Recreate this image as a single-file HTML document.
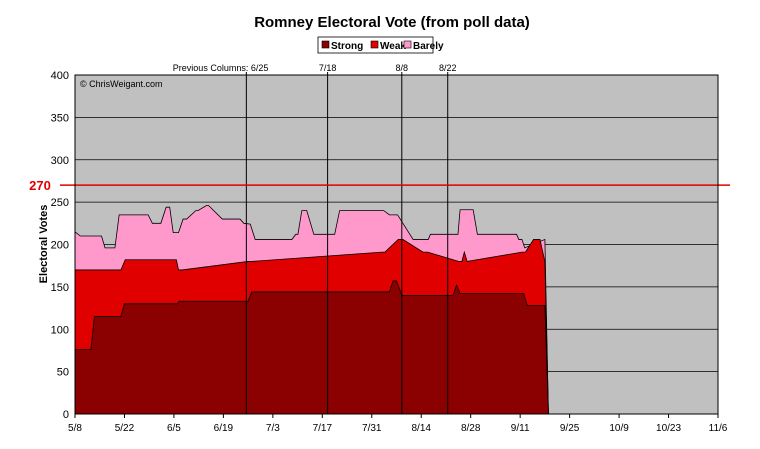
<!DOCTYPE html>
<html><head><meta charset="utf-8"><style>
body{margin:0;background:#fff;}
svg{display:block;font-family:"Liberation Sans",Arial,sans-serif;}
</style></head><body>
<svg id="chart" width="760" height="449">
<text x="392" y="27" text-anchor="middle" font-size="15" font-weight="bold">Romney Electoral Vote (from poll data)</text>
<g>
<rect x="318" y="37" width="115" height="16" fill="#fff" stroke="#000" stroke-width="0.8"/>
<g><rect x="322" y="41" width="7" height="7" fill="#8b0000" stroke="#000" stroke-width="0.6"/><text x="331" y="49" font-size="10" font-weight="bold">Strong</text></g>
<g><rect x="371" y="41" width="7" height="7" fill="#e00000" stroke="#000" stroke-width="0.6"/><text x="380" y="49" font-size="10" font-weight="bold">Weak</text></g>
<g><rect x="404" y="41" width="7" height="7" fill="#ff99cc" stroke="#000" stroke-width="0.6"/><text x="413" y="49" font-size="10" font-weight="bold">Barely</text></g>
</g>
<rect x="75" y="75" width="643" height="339" fill="#c0c0c0"/>
<g id="grid"></g>
<g id="series"></g>
<g id="vlines"></g>
<rect x="75" y="75" width="643" height="339" fill="none" stroke="#000" stroke-width="1"/>
<g id="axes"></g>
<text x="80" y="87" font-size="9">© ChrisWeigant.com</text>
<text transform="translate(47,244) rotate(-90)" text-anchor="middle" font-size="11" font-weight="bold">Electoral Votes</text>
</svg>
<script>
const yTicks=[0,50,100,150,200,250,300,350,400];
const xTickLabels=["5/8","5/22","6/5","6/19","7/3","7/17","7/31","8/14","8/28","9/11","9/25","10/9","10/23","11/6"];
const strongDays=[0,4.5,5.5,13,14,29,29.5,49,50,89,90,91,92.5,107,108,109,127,128,133,134];
const strongVals=[76,76,115,115,130,130,133,133,144,144,157,157,140,140,152,142,142,128,128,0];
const weakDays=[0,13,14.2,28.7,29.3,30.3,49,50,87,87.7,91.5,92.8,98.5,99.8,108.7,109.5,110.2,111,126.5,127.5,129.8,131.6,133,134];
const weakTopVals=[170,170,182,182,170,170,180,180,191,191,206,206,191,191,180,180,191,180,191,191,206,206,180,0];
const barelyDays=[0,1.5,7.5,8.5,11.3,12.5,20.7,21.9,24.3,25.8,26.8,27.8,29.3,30.6,31.6,34.2,34.8,37.2,37.8,41.7,46.7,47.8,49.6,51,61.4,62.5,63.1,64.2,65.6,67.6,73.5,74.9,87.4,89,91.3,95.7,100,100.6,108.4,109,112.7,113.9,125,125.6,126.5,127.3,133,134];
const barelyTopVals=[215,210,210,196,196,235,235,225,225,244,244,214,214,230,230,240,240,246,246,230,230,225,224,206,206,212,212,240,240,212,212,240,240,235,235,206,206,212,212,241,241,212,212,206,206,196,206,0];
const totalDays=182;
const X0=75,X1=718,Y0=414,Y1=75,YMAX=400;
const xs=d=>X0+d*(X1-X0)/totalDays;
const ys=v=>Y0-v*(Y0-Y1)/YMAX;
const NS="http://www.w3.org/2000/svg";
function mk(tag,attrs,parent){const e=document.createElementNS(NS,tag);for(const k in attrs)e.setAttribute(k,attrs[k]);parent.appendChild(e);return e;}
const grid=document.getElementById('grid'),axes=document.getElementById('axes'),series=document.getElementById('series'),vl=document.getElementById('vlines');
yTicks.forEach(t=>{
  const g=mk('line',{x1:X0,x2:X1,y1:ys(t),y2:ys(t),stroke:'#000','stroke-width':0.8},grid);
  
  
  const l=mk('text',{x:X0-6,y:ys(t)+4,'text-anchor':'end','font-size':11},axes);
  l.textContent=t;
  
  
});
xTickLabels.forEach((lab,i)=>{
  const x=xs(i*14);
  mk('line',{x1:x,x2:x,y1:Y0,y2:Y0+4,stroke:'#000'},axes);
  const t=mk('text',{x:x,y:Y0+17,'text-anchor':'middle','font-size':10},axes);
  t.textContent=lab;
  
  
});
function area(days,vals,fill,name){
  let d='M'+xs(days[0])+','+ys(0);
  days.forEach((dd,i)=>{d+=' L'+xs(dd)+','+ys(vals[i]);});
  d+=' L'+xs(days[days.length-1])+','+ys(0)+' Z';
  const p=mk('path',{d:d,fill:fill,stroke:'#000','stroke-width':0.8},series);
  
  
}
area(barelyDays,barelyTopVals,'#ff99cc','area-barely');
area(weakDays,weakTopVals,'#e00000','area-weak');
area(strongDays,strongVals,'#8b0000','area-strong');
const prevColDays=[48.5,71.5,92.5,105.5];
const prevColLabels=["Previous Columns: 6/25","7/18","8/8","8/22"];
prevColDays.forEach((d,i)=>{
  const x=xs(d);
  const l=mk('line',{x1:x,x2:x,y1:Y1-3,y2:ys(0),stroke:'#000','stroke-width':1},vl);
  
  
  const t=mk('text',{x:i==0?x+22:x,y:Y1-4,'text-anchor':i==0?'end':'middle','font-size':9},vl);
  t.textContent=prevColLabels[i];
  
  
});
const win=270;
const wl=mk('line',{x1:60,x2:730,y1:ys(win),y2:ys(win),stroke:'#e00000','stroke-width':1.5},vl);


const wt=mk('text',{x:40,y:ys(win)+5,'text-anchor':'middle','font-size':13,'font-weight':'bold',fill:'#e00000'},vl);
wt.textContent='270';


</script>
</body></html>
